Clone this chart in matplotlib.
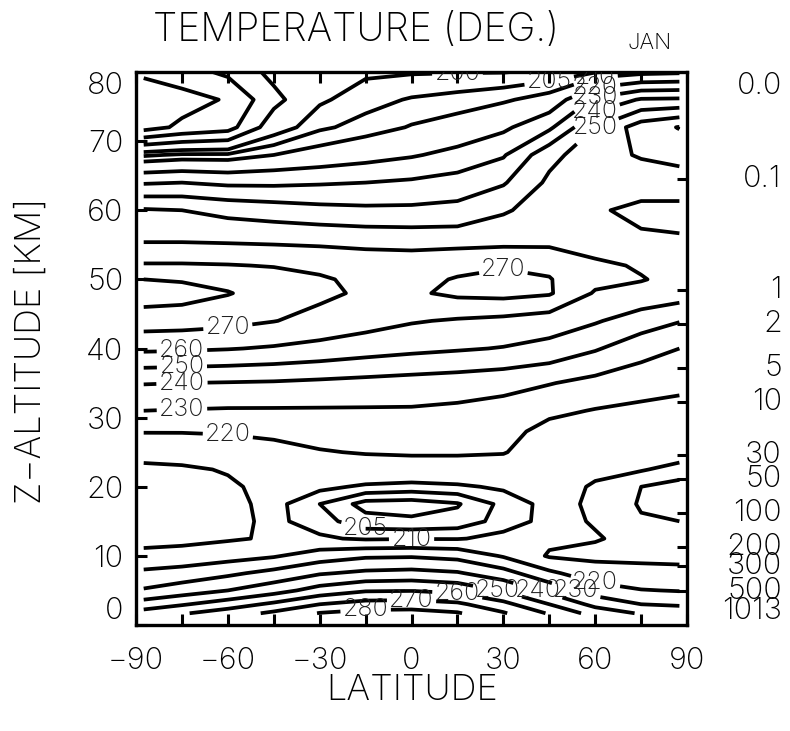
import numpy as np
import matplotlib
matplotlib.use("Agg")
import matplotlib.pyplot as plt
import matplotlib.transforms as mtransforms

plt.rcParams['font.family'] = ['Inter', 'Roboto', 'DejaVu Sans']

# temperature table (K): rows are altitudes (km), columns are latitudes (deg)
lats = [-87.5, -75, -60, -45, -30, -15, 0, 15, 30, 45, 60, 75, 87.5]
heights = [1.7, 3, 5, 7.5, 10, 12.5, 15, 17.5, 20, 22.5, 25, 28, 31, 35,
           40, 44, 48, 50, 52, 56, 60, 64, 68, 72, 76, 80]

temps = [
    [254, 259, 265, 272, 280.5, 283.5, 284, 281, 271, 259, 246, 239, 237],
    [244.5, 249, 255, 262, 270, 274, 274.5, 272, 263, 250, 237, 230, 228.5],
    [231, 235, 240, 246, 254, 259, 259.5, 257, 249, 237, 225, 220.5, 219.5],
    [222, 224, 228, 233, 239, 242, 243, 241, 234, 222, 214, 212, 211],
    [212.5, 213.5, 216, 219, 225, 228.5, 229, 227, 219, 209, 208, 208.5, 209],
    [207, 207.5, 209, 211, 211, 209, 209.5, 209.5, 212, 212, 210.5, 208, 207.5],
    [206, 206.5, 208, 211.5, 207, 202, 201, 202, 207, 212, 209.5, 205.5, 205],
    [205.5, 206, 208, 212, 205, 198, 197.5, 199.5, 206.5, 212, 209, 204.5, 203.5],
    [206.5, 207, 209, 212, 211.5, 209, 208, 209, 211, 212, 209.5, 205, 203],
    [208.5, 209, 210.5, 213, 215, 216, 216, 216, 215.5, 212.5, 211, 210.5, 208],
    [212.5, 213, 214.5, 217, 219.5, 220.5, 221, 221, 220.5, 215, 213.5, 213, 213],
    [220.5, 220.5, 221, 222, 223, 224, 224.5, 224, 223, 217, 215.5, 215, 215],
    [230, 229.5, 229, 229, 229, 229, 229, 228, 226, 222, 219.5, 218, 217.5],
    [240.5, 240, 239.5, 239, 238, 237, 236, 235, 233.5, 230.5, 227, 224, 222],
    [262, 261.5, 260.5, 259, 257, 254.5, 252.5, 251, 249.5, 247, 241, 234, 230],
    [275, 274.5, 273, 270.3, 267, 264, 260.8, 259, 257.5, 255, 251, 245, 240.5],
    [285, 284, 280.5, 276, 272, 268.5, 268.5, 272, 273, 271, 259, 257, 255],
    [280, 279, 277, 274, 271, 268, 268, 270.5, 271.5, 270.5, 263, 260.5, 257.5],
    [271, 271, 270.5, 269.5, 268, 266.5, 266, 268, 269.5, 268, 262, 259, 256.5],
    [258, 258, 257.5, 257, 256.5, 255.5, 255, 255, 255.5, 256, 254, 251, 250.5],
    [251, 250, 247, 245, 243, 242, 242, 243, 249, 254, 251, 248, 247.5],
    [229, 230, 228, 228, 229, 230, 231.5, 234, 239, 252, 252, 254, 255],
    [204, 206, 206, 210, 213, 216, 219, 223, 229, 247, 256, 261, 263.5],
    [166, 172, 176, 196, 204, 207, 210.5, 213, 218, 228, 250, 265, 270.5],
    [163, 166, 171, 187, 199, 203, 205.5, 207, 209, 213, 232, 241, 241.5],
    [172, 176, 182, 193, 197, 199, 199.5, 199.7, 199.8, 201, 204.5, 207.5, 208.5],
]

levels = [170, 180, 190, 200, 205, 210, 220, 230, 240, 250, 260, 270, 280, 290]

# labelled contours: (level, latitude, altitude near which the label sits)
label_spots = [
    (200, 19, 79.3), (205, 47, 78.6), (210, 64, 79.4), (220, 60, 77.8),
    (230, 59, 76.5), (240, 58, 75.5), (250, 58, 73.5),
    (270, -58, 44), (260, -68, 39.5), (250, -68, 37), (240, -68, 34.5),
    (230, -68, 31), (220, -67, 27), (270, 31, 50.5),
    (205, -14, 13.6), (210, 0, 12.8),
    (280, -13, 2.1), (270, 6, 3.5), (260, 14, 4.4), (250, 26, 4.6),
    (240, 39, 4.3), (230, 52, 5.2), (220, 58, 6.4),
]

xticks_major = [-90, -60, -30, 0, 30, 60, 90]
xticks_minor = [-75, -45, -15, 15, 45, 75]
zticks = [0, 10, 20, 30, 40, 50, 60, 70, 80]
pressure_labels = ['0.0', '0.1', '1', '2', '5', '10', '30', '50', '100',
                   '200', '300', '500', '1013']
pressure_mb = [0.011, 0.1, 1, 2, 5, 10, 30, 50, 100, 200, 300, 500, 1013]
scale_height = 7.0

fig = plt.figure(figsize=(7.9, 7.31), dpi=100)
ax = fig.add_axes([0.1722, 0.145, 0.6975, 0.7565])
ax.set_xlim(-90, 90)
ax.set_ylim(0, 80)

T = np.array(temps, dtype=float)
cs = ax.contour(lats, heights, T, levels=levels, colors='black',
                linewidths=2.7)
cs.clabel(levels, manual=[], inline=True, fmt='%d', fontsize=18,
          colors='#202020')

# put each label on the requested level, at the point of that level
# closest to the requested spot
for lev, la, zz in label_spots:
    target = ax.transData.transform((la, zz))
    best, best_d = None, np.inf
    for seg in cs.allsegs[levels.index(lev)]:
        if len(seg) == 0:
            continue
        pts = ax.transData.transform(seg)
        d = np.hypot(pts[:, 0] - target[0], pts[:, 1] - target[1])
        i = int(np.argmin(d))
        if d[i] < best_d:
            best_d, best = d[i], seg[i]
    if best is not None:
        cs.add_label_near(best[0], best[1], inline=True, inline_spacing=2)
for t in cs.labelTexts:
    t.set_rotation(0)
    t.set_fontweight('light')

for s in ax.spines.values():
    s.set_linewidth(2.4)

ax.set_xticks(xticks_major)
ax.set_xticks(xticks_minor, minor=True)
ax.set_xticklabels([str(v).replace('-', '\u2212') for v in xticks_major],
                   fontsize=22, fontweight='light')
ax.set_yticks(zticks)
ax.set_yticklabels([str(v) for v in zticks], fontsize=22, fontweight='light')
ax.tick_params(axis='both', which='both', direction='in', length=8,
               width=2.2, top=True, right=False)
ax.tick_params(axis='x', which='both', pad=16)
ax.tick_params(axis='y', which='both', pad=9)
ylabels = ax.get_yticklabels()
ylabels[0].set_va('bottom')
ylabels[-1].set_va('top')

# pressure scale (mb) on the right
trans = mtransforms.blended_transform_factory(ax.transAxes, ax.transData)
zp = [scale_height * np.log(1013.0 / p) for p in pressure_mb]
for z, lab in zip(zp, pressure_labels):
    if lab not in ('0.0', '1013'):
        ax.plot([1.0, 0.982], [z, z], color='black', lw=2.2, transform=trans,
                clip_on=False, solid_capstyle='butt')
    va, zz = 'center', z
    if lab == '0.0':
        va, zz = 'top', 80
    elif lab == '1013':
        va, zz = 'bottom', 0
    ax.text(1.172, zz, lab, transform=trans, ha='right', va=va,
            fontsize=22, fontweight='light')

fig.text(356 / 790, 1 - 31 / 731, 'TEMPERATURE (DEG.)', ha='center',
         va='center', fontsize=28, fontweight='light')
fig.text(650 / 790, 1 - 43 / 731, 'JAN', ha='center', va='center',
         fontsize=16, fontweight='light')
fig.text(412 / 790, 1 - 690 / 731, 'LATITUDE', ha='center', va='center',
         fontsize=26, fontweight='light')
fig.text(31 / 790, 1 - 351 / 731, 'Z\u2212ALTITUDE [KM]', ha='center',
         va='center', rotation=90, fontsize=26, fontweight='light')

fig.savefig('out.png', dpi=100)
